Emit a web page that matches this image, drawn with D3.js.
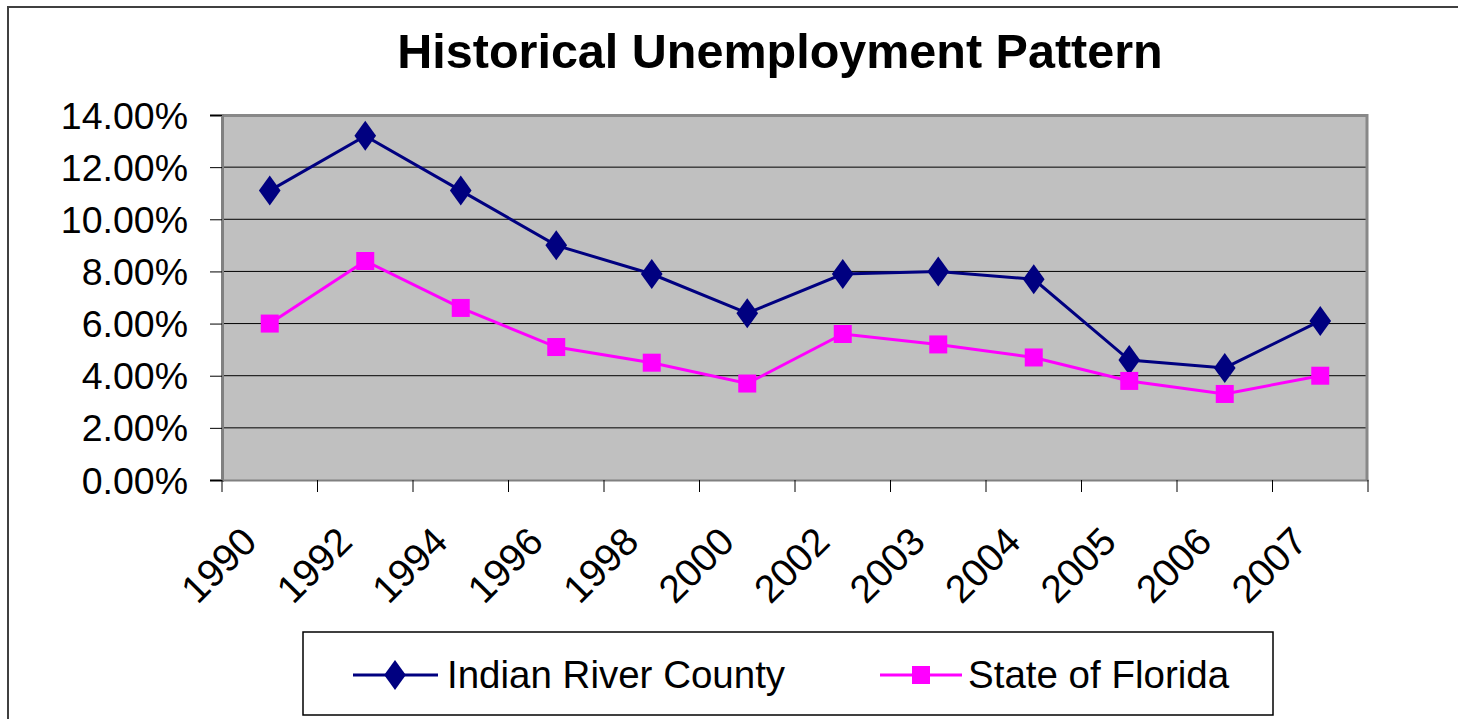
<!DOCTYPE html>
<html>
<head>
<meta charset="utf-8">
<script src="https://cdn.jsdelivr.net/npm/d3@7"></script>
<style>
  body { margin: 0; background: #fff; }
  text { font-family: "Liberation Sans", Arial, sans-serif; fill: #000; }
</style>
</head>
<body>
<div id="chart"></div>
<script>
var years = ["1990", "1992", "1994", "1996", "1998", "2000", "2002", "2003", "2004", "2005", "2006", "2007"];
var indianRiver = [0.111, 0.132, 0.111, 0.090, 0.079, 0.064, 0.079, 0.080, 0.077, 0.046, 0.043, 0.061];
var florida = [0.060, 0.084, 0.066, 0.051, 0.045, 0.037, 0.056, 0.052, 0.047, 0.038, 0.033, 0.040];
var yTicks = [0, 0.02, 0.04, 0.06, 0.08, 0.10, 0.12, 0.14];
var seriesNames = ["Indian River County", "State of Florida"];

var W = 1458, H = 719;
var plot = {left: 222, right: 1368, top: 115, bottom: 480};

var svg = d3.select("#chart").append("svg")
  .attr("width", W).attr("height", H);

// outer chart border
svg.append("rect")
  .attr("x", 8).attr("y", 7).attr("width", W + 10).attr("height", H + 10)
  .attr("fill", "#fff").attr("stroke", "#404040").attr("stroke-width", 2);

svg.append("text")
  .attr("x", 780).attr("y", 68)
  .attr("text-anchor", "middle")
  .style("font-size", "48.5px").style("font-weight", "bold")
  .text("Historical Unemployment Pattern");

var x = d3.scaleBand().domain(years).range([plot.left, plot.right]);
var y = d3.scaleLinear().domain([0, 0.14]).range([plot.bottom, plot.top]);

// plot area
svg.append("rect")
  .attr("x", plot.left).attr("y", plot.top)
  .attr("width", plot.right - plot.left).attr("height", plot.bottom - plot.top)
  .attr("fill", "#C0C0C0");

// gridlines
svg.append("g").selectAll("line")
  .data(yTicks.slice(1))
  .enter().append("line")
  .attr("x1", plot.left).attr("x2", plot.right)
  .attr("y1", function(d){ return y(d); }).attr("y2", function(d){ return y(d); })
  .attr("stroke", "#000").attr("stroke-width", 1);

// plot border top / right
svg.append("path")
  .attr("d", "M" + plot.left + "," + (plot.top + 0.5) + "H" + (plot.right - 1) + "V" + plot.bottom)
  .attr("fill", "none").attr("stroke", "#888").attr("stroke-width", 3);

// y axis
var yAxis = d3.axisLeft(y).tickValues(yTicks).tickSize(12).tickPadding(22)
  .tickFormat(d3.format(".2%"));
var yAxisG = svg.append("g")
  .attr("transform", "translate(" + plot.left + ",0)")
  .call(yAxis);
yAxisG.select(".domain").attr("stroke", "#808080").attr("stroke-width", 3);
yAxisG.selectAll(".tick line").attr("stroke", "#000");
yAxisG.selectAll(".tick text")
  .style("font-size", "37.5px").attr("dy", "0.35em").attr("x", -34);

// x axis: labels at band centres, tick marks at band boundaries
var xAxis = d3.axisBottom(x).tickSize(0).tickPadding(0);
var xAxisG = svg.append("g")
  .attr("transform", "translate(0," + plot.bottom + ")")
  .call(xAxis);
xAxisG.select(".domain").attr("stroke", "#808080").attr("stroke-width", 2);
xAxisG.selectAll(".tick text")
  .style("font-size", "39px")
  .attr("text-anchor", "end")
  .attr("y", 0).attr("dy", 0)
  .attr("transform", "translate(-11,64) rotate(-45)");

var bounds = years.map(function(d){ return x(d); }).concat([x.range()[1]]);
xAxisG.selectAll(".bound")
  .data(bounds)
  .enter().append("line")
  .attr("class", "bound")
  .attr("x1", function(d){ return d; }).attr("x2", function(d){ return d; })
  .attr("y1", 0).attr("y2", 12)
  .attr("stroke", "#000");

var cx = function(d, i){ return x(years[i]) + x.bandwidth() / 2; };
var line = d3.line().x(cx).y(function(d){ return y(d); });

// Indian River County
svg.append("path").datum(indianRiver)
  .attr("d", line).attr("fill", "none")
  .attr("stroke", "#000080").attr("stroke-width", 3);
var diamond = d3.symbol().type(d3.symbolDiamond).size(260);
svg.append("g").selectAll("path")
  .data(indianRiver).enter().append("path")
  .attr("d", diamond)
  .attr("transform", function(d, i){ return "translate(" + cx(d, i) + "," + y(d) + ") scale(1.25,1)"; })
  .attr("fill", "#000080");

// State of Florida
svg.append("path").datum(florida)
  .attr("d", line).attr("fill", "none")
  .attr("stroke", "#FF00FF").attr("stroke-width", 3);
svg.append("g").selectAll("rect")
  .data(florida).enter().append("rect")
  .attr("x", function(d, i){ return cx(d, i) - 9; })
  .attr("y", function(d){ return y(d) - 9; })
  .attr("width", 18).attr("height", 18)
  .attr("fill", "#FF00FF");

// legend
var legend = svg.append("g");
legend.append("rect")
  .attr("x", 303).attr("y", 632).attr("width", 970).attr("height", 83)
  .attr("fill", "#fff").attr("stroke", "#000").attr("stroke-width", 1.5);

var legItems = [
  {name: seriesNames[0], color: "#000080", x0: 353, x1: 438, textX: 447},
  {name: seriesNames[1], color: "#FF00FF", x0: 880, x1: 962, textX: 968}
];
var legG = legend.selectAll(".item").data(legItems).enter().append("g").attr("class", "item");
legG.append("line")
  .attr("x1", function(d){ return d.x0; }).attr("x2", function(d){ return d.x1; })
  .attr("y1", 675).attr("y2", 675)
  .attr("stroke", function(d){ return d.color; }).attr("stroke-width", 3);
legG.append("text")
  .attr("x", function(d){ return d.textX; }).attr("y", 688)
  .style("font-size", "38.5px")
  .text(function(d){ return d.name; });

legend.append("path")
  .attr("d", diamond)
  .attr("transform", "translate(395,675) scale(1.25,1)")
  .attr("fill", "#000080");
legend.append("rect")
  .attr("x", 912).attr("y", 666).attr("width", 18).attr("height", 18)
  .attr("fill", "#FF00FF");
</script>
</body>
</html>
